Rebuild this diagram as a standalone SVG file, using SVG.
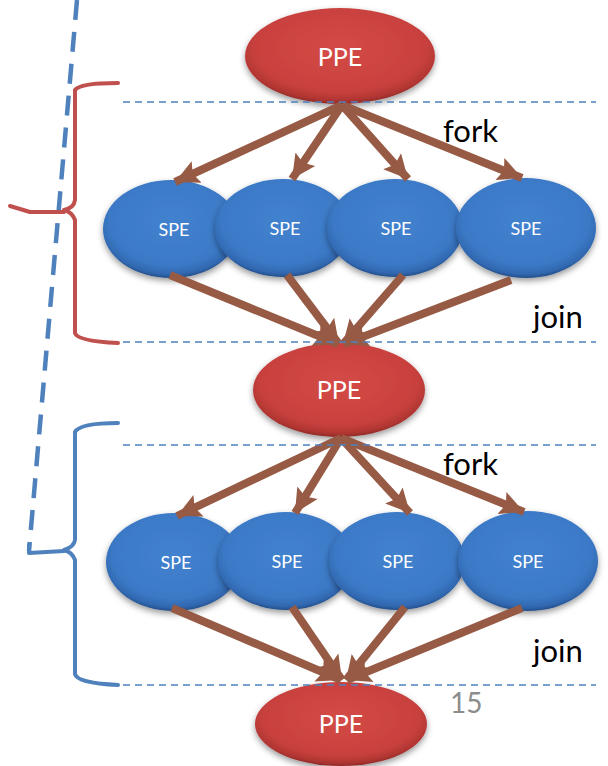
<svg xmlns="http://www.w3.org/2000/svg" width="608" height="766" viewBox="0 0 608 766">
  <defs>
    <radialGradient id="redFill" cx="50%" cy="42%" r="58%">
      <stop offset="0" stop-color="#d44a46"/>
      <stop offset="0.78" stop-color="#c8413e"/>
      <stop offset="0.93" stop-color="#b03532"/>
      <stop offset="1" stop-color="#8f2a27"/>
    </radialGradient>
    <radialGradient id="blueFill" cx="50%" cy="42%" r="58%">
      <stop offset="0" stop-color="#4282cf"/>
      <stop offset="0.78" stop-color="#3b79c6"/>
      <stop offset="0.93" stop-color="#3168b0"/>
      <stop offset="1" stop-color="#244f8a"/>
    </radialGradient>
    <filter id="soft" x="-20%" y="-20%" width="140%" height="150%">
      <feDropShadow dx="0" dy="3" stdDeviation="3" flood-color="#000" flood-opacity="0.4"/>
    </filter>
    <marker id="head" markerUnits="userSpaceOnUse" markerWidth="26" markerHeight="26" viewBox="0 0 24 24" refX="22" refY="12" orient="auto">
      <path d="M0,1 L22,12 L0,23 L4,12 Z" fill="#965a45"/>
    </marker>
    <style>
      .ppe { fill: url(#redFill); filter: url(#soft); }
      .spe { fill: url(#blueFill); filter: url(#soft); }
      .lbl { fill: #ffffff; font-family: Lato, "Liberation Sans", sans-serif; text-anchor: middle; }
      .big { font-size: 25px; }
      .small { font-size: 18px; }
      .note { fill: #000000; font-family: Lato, "Liberation Sans", sans-serif; font-size: 31px; }
      .guide { stroke: #4f81bd; stroke-width: 1.6; stroke-dasharray: 7 5; fill: none; }
      .arrow { stroke: #965a45; stroke-width: 8; fill: none; marker-end: url(#head); }
      .brace { fill: none; stroke-width: 4; stroke-linecap: round; stroke-linejoin: round; }
    </style>
  </defs>

  <!-- long slanted dashed timeline -->
  <line x1="77" y1="0" x2="29" y2="551" stroke="#4f81bd" stroke-width="4.5" stroke-dasharray="20 12"/>

  <!-- braces -->
  <g id="brace-red">
    <path class="brace" stroke="#c0504d" d="M118,83 Q80,83 75,90 L75,200 Q74,208 64,210 Q72,212 75,220 L75,333 Q77,341 118,343"/>
    <path class="brace" stroke="#c0504d" d="M10,206 L30,212 L64,212"/>
  </g>
  <g id="brace-blue">
    <path class="brace" stroke="#4f81bd" d="M118,423 Q80,423 75,432 L75,540 Q74,547 64,550 Q72,552 75,560 L75,674 Q77,683 118,685"/>
    <path class="brace" stroke="#4f81bd" d="M29,545 L29,553 L64,551"/>
  </g>

  <!-- nodes -->
  <g id="ppe-1"><ellipse class="ppe" cx="340" cy="56" rx="95" ry="48"/><text class="lbl big" x="340" y="66">PPE</text></g>

  <g id="spe-1"><ellipse class="spe" cx="171" cy="229" rx="68" ry="49"/><text class="lbl small" x="174" y="236">SPE</text></g>
  <g id="spe-2"><ellipse class="spe" cx="283" cy="228" rx="68" ry="49"/><text class="lbl small" x="285" y="235">SPE</text></g>
  <g id="spe-3"><ellipse class="spe" cx="395" cy="228" rx="68" ry="49"/><text class="lbl small" x="396" y="235">SPE</text></g>
  <g id="spe-4"><ellipse class="spe" cx="526" cy="228" rx="70" ry="50"/><text class="lbl small" x="526" y="235">SPE</text></g>

  <g id="ppe-2"><ellipse class="ppe" cx="339" cy="390" rx="86" ry="47"/><text class="lbl big" x="339" y="399">PPE</text></g>

  <g id="spe-5"><ellipse class="spe" cx="174" cy="562" rx="68" ry="49"/><text class="lbl small" x="176" y="569">SPE</text></g>
  <g id="spe-6"><ellipse class="spe" cx="286" cy="561" rx="68" ry="49"/><text class="lbl small" x="287" y="568">SPE</text></g>
  <g id="spe-7"><ellipse class="spe" cx="397" cy="561" rx="68" ry="49"/><text class="lbl small" x="398" y="568">SPE</text></g>
  <g id="spe-8"><ellipse class="spe" cx="528" cy="561" rx="70" ry="50"/><text class="lbl small" x="528" y="568">SPE</text></g>

  <g id="ppe-3"><ellipse class="ppe" cx="341" cy="724" rx="86" ry="42"/><text class="lbl big" x="341" y="733">PPE</text></g>

  <!-- connectors -->
  <g id="connectors">
    <line class="arrow" x1="342" y1="105" x2="175" y2="182"/>
    <line class="arrow" x1="342" y1="105" x2="292" y2="179"/>
    <line class="arrow" x1="342" y1="105" x2="408" y2="179"/>
    <line class="arrow" x1="342" y1="105" x2="522" y2="178"/>

    <line class="arrow" x1="170" y1="275" x2="338" y2="344"/>
    <line class="arrow" x1="287" y1="275" x2="339" y2="344"/>
    <line class="arrow" x1="403" y1="275" x2="343" y2="344"/>
    <line class="arrow" x1="511" y1="280" x2="344" y2="344"/>

    <line class="arrow" x1="341" y1="438" x2="177" y2="516"/>
    <line class="arrow" x1="341" y1="438" x2="295" y2="513"/>
    <line class="arrow" x1="341" y1="438" x2="410" y2="513"/>
    <line class="arrow" x1="341" y1="438" x2="524" y2="512"/>

    <line class="arrow" x1="172" y1="608" x2="341" y2="680"/>
    <line class="arrow" x1="292" y1="607" x2="342" y2="680"/>
    <line class="arrow" x1="405" y1="607" x2="346" y2="680"/>
    <line class="arrow" x1="522" y1="608" x2="347" y2="680"/>
  </g>

  <!-- horizontal guides -->
  <line class="guide" x1="123" y1="102" x2="596" y2="102"/>
  <line class="guide" x1="123" y1="342" x2="596" y2="342"/>
  <line class="guide" x1="123" y1="445" x2="596" y2="445"/>
  <line class="guide" x1="123" y1="685" x2="596" y2="685"/>

  <!-- annotations -->
  <text class="note" x="443" y="142">fork</text>
  <text class="note" x="533" y="328">join</text>
  <text class="note" x="443" y="475">fork</text>
  <text class="note" x="533" y="662">join</text>
  <text x="450" y="713" fill="#8c8c8c" font-family="Lato, 'Liberation Sans', sans-serif" font-size="28">15</text>
</svg>
